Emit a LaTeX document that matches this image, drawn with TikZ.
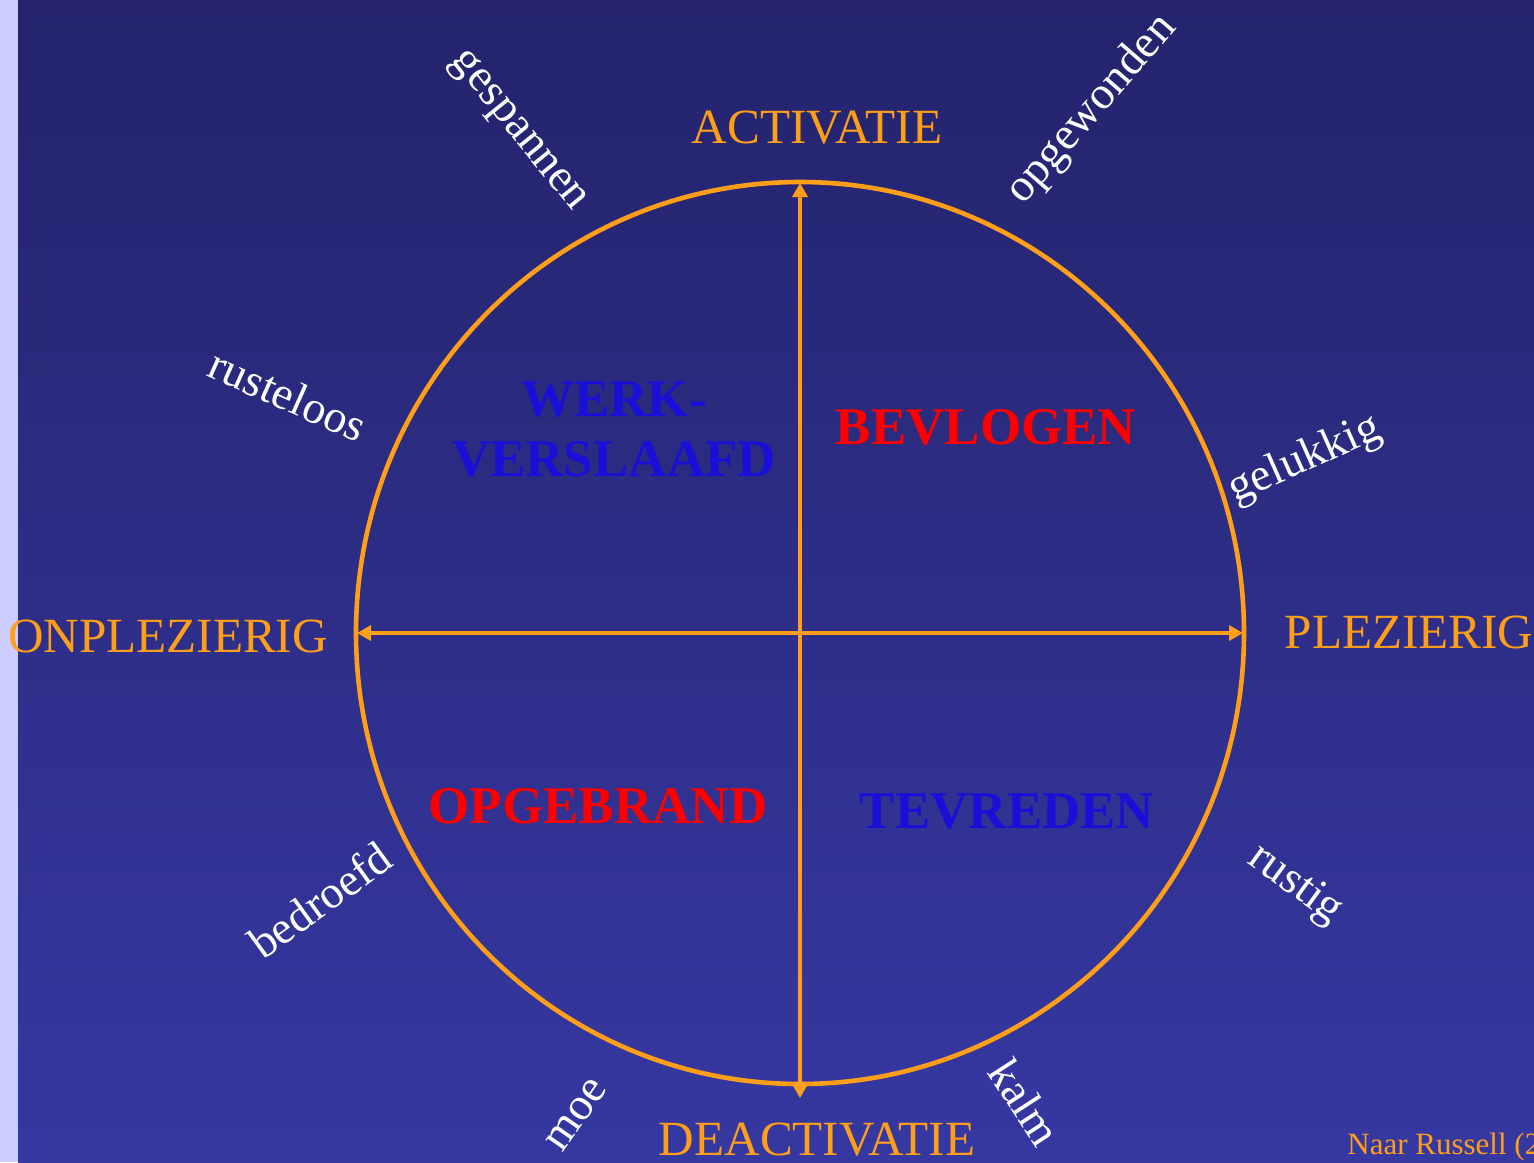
\documentclass[tikz,border=0pt]{standalone}
\usepackage{fontspec}
\setmainfont{Liberation Serif}
\usetikzlibrary{arrows.meta,shapes.geometric}
\definecolor{axisorange}{HTML}{FF9E18}
\definecolor{quadblue}{HTML}{1A0FD8}
\definecolor{quadred}{HTML}{FF0000}
\definecolor{bgtop}{HTML}{24236C}
\definecolor{bgbot}{HTML}{3638A2}
\definecolor{strip}{HTML}{CCCCFF}

\begin{document}
\begin{tikzpicture}[x=0.5pt,y=-0.5pt,
 axis/.style={axisorange,line width=2pt},
 pole/.style={text=axisorange,inner sep=0pt,font=\fontsize{24.6}{29}\selectfont},
 mood/.style={text=white,inner sep=0pt,font=\fontsize{23}{27}\selectfont},
 quad/.style={inner sep=0pt,align=center,font=\bfseries\fontsize{26.5}{30}\selectfont}]
\useasboundingbox (0,0) rectangle (1534,1162);
\clip (0,0) rectangle (1534,1162);
% background
\fill[strip] (0,0) rectangle (18,1162);
\shade[top color=bgtop,bottom color=bgbot] (18,0) rectangle (1534,1162);

% circle and axes
\node[ellipse,draw=axisorange,line width=2.3pt,minimum width=444pt,minimum height=451pt,
 inner sep=0pt] (ring) at (800,633) {};
\coordinate (top) at (800,183);
\coordinate (bot) at (800,1098);
\coordinate (lft) at (357,633);
\coordinate (rgt) at (1243,633);
\draw[axis,{Triangle[length=7pt,width=7.5pt]}-{Triangle[length=7pt,width=7.5pt]}] (bot) -- (top);
\draw[axis,{Triangle[length=7pt,width=7.5pt]}-{Triangle[length=7pt,width=7.5pt]}] (lft) -- (rgt);

% poles
\node[pole] (act) at (817,128) {ACTIVATIE};
\node[pole] (deact) at (817,1140) {DEACTIVATIE};
\node[pole] (onpl) at (168,636) {ONPLEZIERIG};
\node[pole] (pl) at (1409,632) {PLEZIERIG};

% quadrants
\node[quad,text=quadblue] (werk) at (614,430) {WERK-\\VERSLAAFD};
\node[quad,text=quadred] (bevl) at (986,427) {BEVLOGEN};
\node[quad,text=quadred] (opge) at (598,806) {OPGEBRAND};
\node[quad,text=quadblue] (tevr) at (1007,812) {TEVREDEN};

% moods round the circle
\node[mood,rotate=-51] (gesp) at (517,132) {gespannen};
\node[mood,rotate=49] (opgw) at (1092,110) {opgewonden};
\node[mood,rotate=-24] (rust) at (288,395) {rusteloos};
\node[mood,rotate=24] (gel) at (1305,460) {gelukkig};
\node[mood,rotate=36] (bedr) at (320,900) {bedroefd};
\node[mood,rotate=-36] (rstg) at (1295,885) {rustig};
\node[mood,rotate=55] (moe) at (577,1115) {moe};
\node[mood,rotate=-57] (kalm) at (1025,1102) {kalm};

\node[text=axisorange,inner sep=0pt,anchor=base west,font=\fontsize{15.5}{19}\selectfont]
 (src) at (1347,1154) {Naar Russell (2};
\end{tikzpicture}
\end{document}
